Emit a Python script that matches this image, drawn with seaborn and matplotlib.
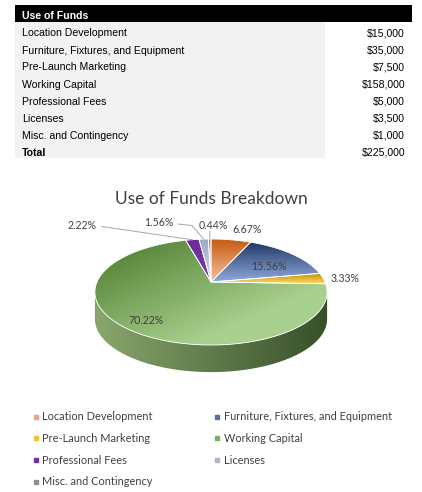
import numpy as np
import matplotlib
matplotlib.use("Agg")
import matplotlib.pyplot as plt
from matplotlib.patches import Polygon, Rectangle
from matplotlib.lines import Line2D
from matplotlib.colors import to_rgb
import seaborn as sns

# -----------------------------
# data
# -----------------------------
categories = ["Location Development", "Furniture, Fixtures, and Equipment",
              "Pre-Launch Marketing", "Working Capital", "Professional Fees",
              "Licenses", "Misc. and Contingency"]
amounts = [15000, 35000, 7500, 158000, 5000, 3500, 1000]
table_title = "Use of Funds"
chart_title = "Use of Funds Breakdown"

# gradient colours per slice (outer/dark, inner/light) and legend swatches
dark_colors = ["#c55a11", "#203864", "#bf8f00", "#58873a", "#6a2a9a", "#9aabc4", "#8a8a8a"]
light_colors = ["#f6c2a2", "#8faadc", "#ffd966", "#a9d08e", "#7a3aaa", "#d3dae5", "#c6c6c6"]
legend_colors = ["#e8a388", "#5b6fa3", "#f0c040", "#7ab060", "#7030a0", "#aab6ca", "#909090"]

W, H = 422, 492
K = 0.189          # perspective factor of the tilted pie
DEPTH = 0.53       # side thickness (y units)


def fx(px):
    return px / W


def fy(py):
    return 1 - py / H


def proj(theta_deg):
    t = np.radians(theta_deg)
    u, v = np.cos(t), np.sin(t)
    den = 1 + K * v
    return u / den, v / den


def grad_fill(ax, verts, c0, c1, direction, lo, hi, zorder):
    poly = Polygon(verts, closed=True, facecolor="none", edgecolor="none")
    ax.add_patch(poly)
    xs = np.linspace(-1.6, 1.6, 500)
    ys = np.linspace(-2.0, 1.6, 500)
    X, Y = np.meshgrid(xs, ys)
    t = np.clip((X * direction[0] + Y * direction[1] - lo) / (hi - lo), 0, 1)[..., None]
    img = np.array(to_rgb(c0)) * (1 - t) + np.array(to_rgb(c1)) * t
    im = ax.imshow(img, extent=(-1.6, 1.6, -2.0, 1.6), origin="lower",
                   aspect="auto", zorder=zorder, interpolation="bilinear")
    im.set_clip_path(poly)


sns.set_theme(style="white")
plt.rcParams["font.family"] = ["Lato", "DejaVu Sans"]

fig = plt.figure(figsize=(W / 100, H / 100), dpi=100)
fig.patch.set_facecolor("white")

# -----------------------------
# table
# -----------------------------
tax = fig.add_axes([0, fy(165), 1, 165 / H])
tax.set_xlim(0, W)
tax.set_ylim(165, 0)
tax.axis("off")
tax.add_patch(Rectangle((14.5, 5), 397.5, 17.3, color="black", lw=0))
tax.add_patch(Rectangle((14.5, 22.3), 310.5, 135.5, color="#f2f2f2", lw=0))
tfont = dict(family=["Liberation Sans", "DejaVu Sans"], fontsize=7.6, va="center")
tax.text(22, 15.6, table_title, color="white", fontweight="bold", **tfont)
rows = categories + ["Total"]
vals = amounts + [sum(amounts)]
for i, (name, v) in enumerate(zip(rows, vals)):
    y = 33.5 + 17.0 * i
    bold = "bold" if name == "Total" else "normal"
    tax.text(22, y, name, color="black", fontweight=bold, **tfont)
    tax.text(405, y, f"${v:,.0f}", color="black", ha="right", **tfont)

# -----------------------------
# 3D-style pie
# -----------------------------
ax = fig.add_axes([fx(211 - 1.6 * 114), fy(282 + 2.0 * 51.1), 3.2 * 114 / W, 3.6 * 51.1 / H])
ax.set_xlim(-1.6, 1.6)
ax.set_ylim(-2.0, 1.6)
ax.axis("off")

total = sum(amounts)
fracs = np.array(amounts) / total
cum = np.concatenate([[0], np.cumsum(fracs)])
starts = 90 - cum[:-1] * 360      # clockwise from 12 o'clock
ends = 90 - cum[1:] * 360

# side band (front half only)
edge = np.degrees(np.arcsin(K))
band_lo, band_hi = -180 + edge, -edge
for i in range(len(amounts)):
    lo, hi = max(ends[i], band_lo), min(starts[i], band_hi)
    if hi <= lo:
        continue
    th = np.linspace(lo, hi, 200)
    tx, ty = proj(th)
    verts = np.column_stack([np.concatenate([tx, tx[::-1]]),
                             np.concatenate([ty, ty[::-1] - DEPTH])])
    grad_fill(ax, verts, "#88a66c", "#38502a", (1, 0), -1.0, 1.0, zorder=1)

# top faces
for i in range(len(amounts)):
    n = max(4, int(abs(starts[i] - ends[i]) * 2))
    th = np.linspace(starts[i], ends[i], n)
    tx, ty = proj(th)
    verts = np.column_stack([np.concatenate([[0], tx]), np.concatenate([[0], ty])])
    if i == 3:
        grad_fill(ax, verts, dark_colors[i], light_colors[i], (0.7, -0.7), -0.95, 0.75, zorder=2)
    else:
        ytop = ty.max()
        ybot = min(0, ty.min())
        grad_fill(ax, verts, dark_colors[i], light_colors[i], (0, -1), -ytop, -ybot, zorder=2)
    ax.add_patch(Polygon(verts, closed=True, facecolor="none", edgecolor="white",
                         lw=0.6, zorder=3))

# data labels
label_pos = [(0.316, 1.02), (0.504, 0.313), (1.175, 0.06), (-0.57, -0.763),
             (-1.132, 1.106), (-0.456, 1.155), (0.022, 1.106)]
for i, (lx, ly) in enumerate(label_pos):
    ax.text(lx, ly, f"{fracs[i] * 100:.2f}%", ha="center", va="center",
            fontsize=7.6, color="#404040", zorder=5)

# leader lines for the small slices
leader_from = {4: [(-0.96, 1.086)], 5: [(-0.29, 1.135), (-0.167, 1.106)],
               6: [(-0.009, 1.0)]}
for i, pts in leader_from.items():
    mx, my = proj((starts[i] + ends[i]) / 2)
    xs = [p[0] for p in pts] + [mx]
    ys = [p[1] for p in pts] + [my]
    ax.plot(xs, ys, color="#a6a6a6", lw=0.7, zorder=4)

fig.text(fx(211.5), fy(198.5), chart_title, ha="center", va="center",
         fontsize=12.5, color="#404040")

# -----------------------------
# legend (two columns, row-wise order)
# -----------------------------
handles = [Line2D([], [], marker="s", ls="", markersize=3.0, color=c) for c in legend_colors]
col1 = [0, 2, 4, 6]
col2 = [1, 3, 5]
leg_kw = dict(loc="upper left", frameon=False, borderpad=0, borderaxespad=0,
              handlelength=0.55, handletextpad=0.3, labelspacing=0.97,
              fontsize=7.9, labelcolor="#404040")
fig.legend([handles[i] for i in col1], [categories[i] for i in col1],
           bbox_to_anchor=(fx(32.7), fy(411.5)), **leg_kw)
fig.legend([handles[i] for i in col2], [categories[i] for i in col2],
           bbox_to_anchor=(fx(214.3), fy(411.5)), **leg_kw)

fig.savefig("out.png", dpi=100, facecolor="white")
